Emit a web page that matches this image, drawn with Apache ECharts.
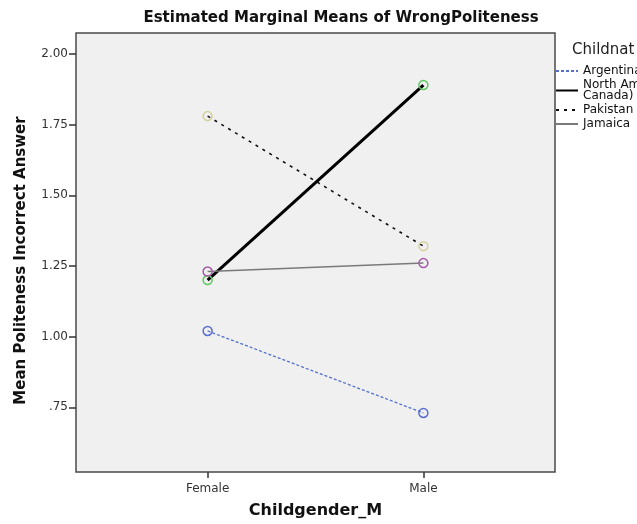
<!DOCTYPE html>
<html>
<head>
<meta charset="utf-8">
<script src="https://cdn.jsdelivr.net/npm/echarts@6/dist/echarts.min.js"></script>
<style>
  html, body { margin: 0; padding: 0; background: #fff; }
  #chart { width: 637px; height: 524px; }
</style>
</head>
<body>
<div id="chart"></div>
<script>
// categories on the x axis
var genders = ['Female', 'Male'];
// y ticks
var yTicks = [0.75, 1.00, 1.25, 1.50, 1.75, 2.00];
// series (legend names) and values: [Female, Male]
var groupNames = ['Argentina', 'North America (USA,\nCanada)', 'Pakistan', 'Jamaica'];
var argentina = [1.02, 0.73];
var northAmerica = [1.20, 1.89];
var pakistan = [1.78, 1.32];
var jamaica = [1.23, 1.26];

var myChart = echarts.init(document.getElementById('chart'));
var font = 'DejaVu Sans';

function pts(arr) {
    return arr.map(function (v, i) { return [i, v]; });
}

function mk(name, values, lineColor, width, type, markerColor) {
    return {
        name: name,
        type: 'line',
        data: pts(values),
        symbol: 'circle',
        symbolSize: 9,
        lineStyle: { color: lineColor, width: width, type: type },
        itemStyle: { color: 'rgba(0,0,0,0)', borderColor: markerColor, borderWidth: 1.5 },
        emphasis: { disabled: true },
        z: 3
    };
}

var option = {
    animation: false,
    textStyle: { fontFamily: font },
    title: {
        text: 'Estimated Marginal Means of WrongPoliteness',
        left: 336,
        textAlign: 'center',
        top: 6,
        textStyle: { fontFamily: font, fontSize: 15, fontWeight: 'bold', color: '#111' }
    },
    graphic: [{
        type: 'text',
        left: 572,
        top: 43,
        style: { text: 'Childnat', font: '15px ' + font, fill: '#222' }
    }],
    legend: {
        orient: 'vertical',
        left: 555,
        top: 65,
        itemWidth: 22,
        itemHeight: 10,
        itemGap: 2,
        padding: 0,
        itemStyle: { opacity: 0 },
        data: groupNames,
        textStyle: { fontFamily: font, fontSize: 12, color: '#111', lineHeight: 11 }
    },
    grid: {
        left: 76, top: 33, right: 82, bottom: 50,
        show: true,
        backgroundColor: '#f0f0f0',
        borderColor: '#4a4a4a',
        borderWidth: 1.5
    },
    xAxis: {
        type: 'value',
        min: -0.61,
        max: 1.61,
        name: 'Childgender_M',
        nameLocation: 'middle',
        nameGap: 31,
        nameTextStyle: { fontFamily: font, fontSize: 16, fontWeight: 'bold', color: '#111' },
        axisLine: { show: false, onZero: false },
        axisTick: { show: true, length: 6, lineStyle: { color: '#333', width: 1.5 }, customValues: [0, 1] },
        axisLabel: {
            customValues: [0, 1],
            fontSize: 12, color: '#333', margin: 11,
            formatter: function (v) { return genders[Math.round(v)]; }
        },
        splitLine: { show: false }
    },
    yAxis: {
        type: 'value',
        min: 0.521,
        max: 2.074,
        name: 'Mean Politeness Incorrect Answer',
        nameLocation: 'middle',
        nameGap: 47,
        nameTextStyle: { fontFamily: font, fontSize: 15, fontWeight: 'bold', color: '#111', padding: [0, 16, 0, 0] },
        axisLine: { show: false, onZero: false },
        axisTick: { show: true, length: 7, lineStyle: { color: '#333', width: 1.5 }, customValues: yTicks },
        axisLabel: {
            customValues: yTicks,
            fontSize: 12, color: '#333', margin: 8,
            formatter: function (v) {
                var s = v.toFixed(2);
                return s.charAt(0) === '0' ? s.slice(1) : s;
            }
        },
        splitLine: { show: false }
    },
    series: [
        mk(groupNames[0], argentina, '#5470cc', 1.3, [3, 2], '#5a6fd0'),
        mk(groupNames[1], northAmerica, '#000', 3, 'solid', '#5ccb5c'),
        mk(groupNames[2], pakistan, '#111', 1.6, [3, 5], '#d4d09c'),
        mk(groupNames[3], jamaica, '#7a7a7a', 1.5, 'solid', '#a55aab')
    ]
};

myChart.setOption(option);
</script>
</body>
</html>
